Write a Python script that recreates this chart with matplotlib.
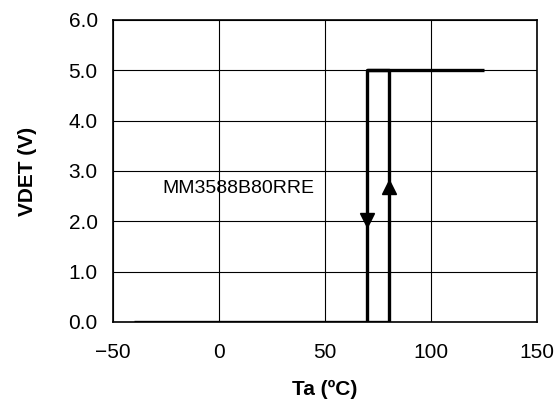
import matplotlib
matplotlib.use("Agg")
import matplotlib.pyplot as plt

plt.rcParams['font.family'] = ['Liberation Sans', 'DejaVu Sans']

# hysteresis curve of the detector
temp = [-40, 80, 80, 70, 70, 125]
vdet = [0.0, 0.0, 5.0, 5.0, 5.0, 5.0]
# falling edge at 70 C, rising edge at 80 C
up_x, up_y = [80], [2.69]
down_x, down_y = [70], [2.03]
label = "MM3588B80RRE"

xticks = [-50, 0, 50, 100, 150]
xlabels = ["\u221250", "0", "50", "100", "150"]
yticks = [0.0, 1.0, 2.0, 3.0, 4.0, 5.0, 6.0]

fig = plt.figure(figsize=(5.55, 3.99), dpi=100)
ax = fig.add_axes([0.2036, 0.193, 0.764, 0.757])

# bottom run, the two edges and the top run
ax.plot(temp[:2], vdet[:2], color="black", lw=2.4, solid_capstyle="butt")
ax.plot([80, 80, 70, 70], [0, 5, 5, 0], color="black", lw=2.4)
ax.plot(temp[4:], vdet[4:], color="black", lw=2.4, solid_capstyle="butt")
ax.plot(up_x, up_y, marker="^", color="black", ms=10, ls="none")
ax.plot(down_x, down_y, marker="v", color="black", ms=10, ls="none")

ax.text(9, 2.66, label, fontsize=14, ha="center", va="center")

ax.set_xlim(-50, 150)
ax.set_ylim(0, 6)
ax.set_xticks(xticks)
ax.set_xticklabels(xlabels)
ax.set_yticks(yticks)
ax.set_yticklabels([f"{v:.1f}" for v in yticks])
ax.tick_params(length=0, labelsize=15)
ax.tick_params(axis="x", pad=15)
ax.tick_params(axis="y", pad=11)
ax.grid(True, color="black", lw=0.8)
ax.set_axisbelow(True)
for s in ax.spines.values():
    s.set_linewidth(1.2)

ax.set_xlabel("Ta (ºC)", fontsize=15, fontweight="bold", labelpad=13)
ax.set_ylabel("VDET (V)", fontsize=15, fontweight="bold", labelpad=23)

fig.savefig("out.png", dpi=100)
